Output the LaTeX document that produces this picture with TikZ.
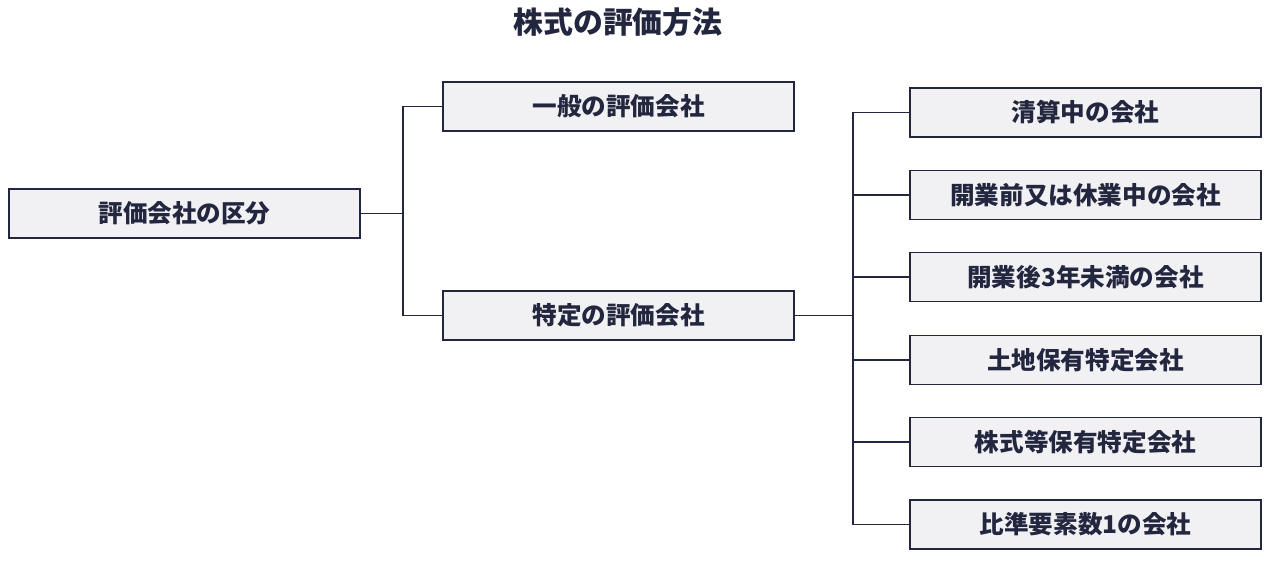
\documentclass[tikz,border=0pt]{standalone}
\usepackage{fontspec}
\newfontfamily\jpfont{Noto Sans CJK JP}
\definecolor{navy}{HTML}{23263F}
\definecolor{boxfill}{HTML}{F1F1F3}
\tikzset{
  kbox/.style={draw=navy,line width=1.1pt,fill=boxfill,text=navy,
    minimum width=7.02cm,minimum height=0.98cm,inner sep=0pt,
    font=\jpfont\bfseries\fontsize{14pt}{16pt}\selectfont},
  kline/.style={draw=navy,line width=1pt}
}
\begin{document}
\begin{tikzpicture}[x=0.02cm,y=-0.02cm]
			\useasboundingbox(0,0) rectangle (1280,568);
			\node[text=navy,font=\jpfont\bfseries\fontsize{17pt}{20pt}\selectfont] (title) at(618,22){株式の評価方法};
			% left part
			\node[kbox] (root) at(184.5,213.5){評価会社の区分};
			\node[kbox] (gen) at(618.5,106.5){一般の評価会社};
			\node[kbox] (spec) at(618.5,315.5){特定の評価会社};
			\draw[kline](root.east)--++(42,0) coordinate (sp1);
			\draw[kline](sp1)|-(gen.west);
			\draw[kline](sp1)|-(spec.west);
			% right part
			\node[kbox] (c1) at(1085.5,112.5){清算中の会社};
			\node[kbox] (c2) at(1085.5,195){開業前又は休業中の会社};
			\node[kbox] (c3) at(1085.5,277){開業後3年未満の会社};
			\node[kbox] (c4) at(1085.5,360){土地保有特定会社};
			\node[kbox] (c5) at(1085.5,442){株式等保有特定会社};
			\node[kbox] (c6) at(1085.5,524.5){比準要素数1の会社};
			\draw[kline](spec.east)--++(58,0) coordinate (sp2);
			\foreach \c in {c1,c2,c3,c4,c5,c6}
			\draw[kline](sp2)|-(\c.west);
			\end{tikzpicture}
\end{document}
